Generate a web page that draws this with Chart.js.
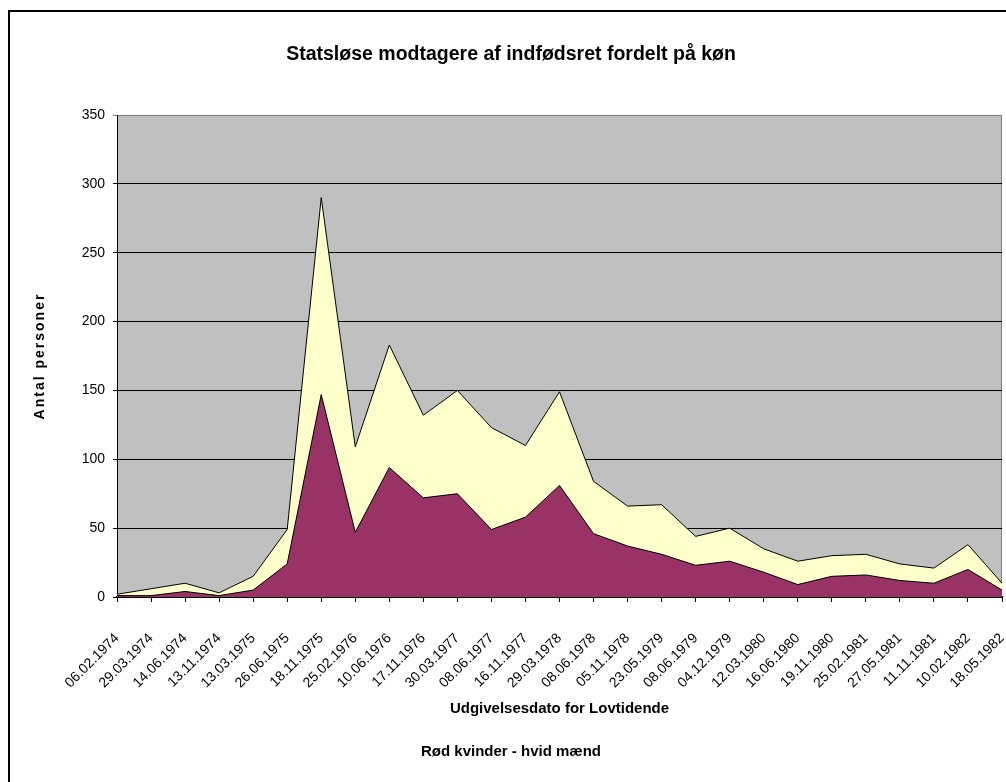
<!DOCTYPE html>
<html>
<head>
<meta charset="utf-8">
<title>Statsløse modtagere af indfødsret</title>
<script src="https://cdn.jsdelivr.net/npm/chart.js@4/dist/chart.umd.min.js"></script>
<style>
  html, body { margin: 0; padding: 0; background: #fff; overflow: hidden; }
  #frame {
    position: absolute; left: 8px; top: 10px;
    width: 1100px; height: 900px;
    border: 2px solid #000;
  }
  #chart { position: absolute; left: 0; top: 0; }
</style>
</head>
<body>
<div id="frame"></div>
<canvas id="chart" width="1006" height="782"></canvas>
<script>
// Udgivelsesdatoer (kategorier)
const datoer = [
  "06.02.1974", "29.03.1974", "14.06.1974", "13.11.1974", "13.03.1975",
  "26.06.1975", "18.11.1975", "25.02.1976", "10.06.1976", "17.11.1976",
  "30.03.1977", "08.06.1977", "16.11.1977", "29.03.1978", "08.06.1978",
  "05.11.1978", "23.05.1979", "08.06.1979", "04.12.1979", "12.03.1980",
  "16.06.1980", "19.11.1980", "25.02.1981", "27.05.1981", "11.11.1981",
  "10.02.1982", "18.05.1982"
];

// Antal kvinder pr. lov
const kvinder = [1, 1, 4, 1, 5, 24, 147, 47, 94, 72, 75, 49, 58, 81, 46,
  37, 31, 23, 26, 18, 9, 15, 16, 12, 10, 20, 5];

// Antal mænd pr. lov
const maend = [1, 5, 6, 2, 10, 25, 143, 62, 89, 60, 75, 74, 52, 68, 38,
  29, 36, 21, 24, 17, 17, 15, 15, 12, 11, 18, 5];

const yTicks = [0, 50, 100, 150, 200, 250, 300, 350];

const FONT = '"Liberation Sans", Arial, sans-serif';
Chart.defaults.font.family = FONT;
Chart.defaults.color = "#000";

// grå baggrund i plotområdet
const plotBaggrund = {
  id: "plotBaggrund",
  beforeDraw(chart) {
    const { ctx, chartArea: a } = chart;
    ctx.save();
    ctx.fillStyle = "#c0c0c0";
    ctx.fillRect(a.left, a.top, a.right - a.left, a.bottom - a.top);
    ctx.strokeStyle = "#808080";
    ctx.lineWidth = 1;
    ctx.strokeRect(a.left + 0.5, a.top + 0.5, a.right - a.left - 1, a.bottom - a.top);
    ctx.restore();
  }
};

// lodret aksetitel med spatieret skrift
const yTitel = {
  id: "yTitel",
  afterDraw(chart) {
    const { ctx, chartArea: a } = chart;
    ctx.save();
    ctx.translate(40, (a.top + a.bottom) / 2);
    ctx.rotate(-Math.PI / 2);
    ctx.font = "bold 14px " + FONT;
    ctx.letterSpacing = "2px";
    ctx.fillStyle = "#000";
    ctx.textAlign = "center";
    ctx.textBaseline = "middle";
    ctx.fillText("Antal personer", 0, 0);
    ctx.restore();
  }
};

new Chart(document.getElementById("chart"), {
  type: "line",
  data: {
    labels: datoer,
    datasets: [
      {
        label: "Kvinder",
        data: kvinder,
        backgroundColor: "#993366",
        borderColor: "#000",
        borderWidth: 1,
        fill: "origin",
        pointRadius: 0,
        tension: 0
      },
      {
        label: "Mænd",
        data: maend,
        backgroundColor: "#ffffcc",
        borderColor: "#000",
        borderWidth: 1,
        fill: "-1",
        pointRadius: 0,
        tension: 0
      }
    ]
  },
  options: {
    responsive: false,
    animation: false,
    layout: { padding: { left: 20, right: 4, top: 0, bottom: 0 } },
    plugins: {
      legend: { display: false },
      tooltip: { enabled: false },
      title: {
        display: true,
        text: "Statsløse modtagere af indfødsret fordelt på køn",
        font: { size: 19.5, weight: "bold", lineHeight: 1.2 },
        padding: { top: 43.3, bottom: 48.3 }
      },
      subtitle: {
        display: true,
        position: "bottom",
        text: "Rød kvinder - hvid mænd",
        font: { size: 15, weight: "bold", lineHeight: 1.2 },
        padding: { top: 0, bottom: 21 }
      }
    },
    scales: {
      x: {
        offset: false,
        grid: { drawOnChartArea: false, drawTicks: true, tickLength: 5, color: "#000" },
        border: { color: "#000", width: 2 },
        ticks: {
          autoSkip: false,
          minRotation: 45,
          maxRotation: 45,
          padding: 28,
          font: { size: 14 }
        },
        title: {
          display: true,
          text: "Udgivelsesdato for Lovtidende",
          font: { size: 15, weight: "bold", lineHeight: 1.2 },
          padding: { top: 0, bottom: 25 }
        },
        afterFit(scale) {
          scale.height = 146;
          scale.paddingLeft = 0;
          scale.paddingRight = 0;
        }
      },
      y: {
        stacked: true,
        min: 0,
        max: 350,
        afterBuildTicks(scale) { scale.ticks = yTicks.map(v => ({ value: v })); },
        grid: {
          color: ctx => (ctx.tick && ctx.tick.value === 350 ? "#808080" : "#000"),
          lineWidth: 1,
          tickLength: 4
        },
        border: { color: "#000", width: 1 },
        ticks: { padding: 8, font: { size: 14 } },
        afterFit(scale) { scale.width = 97; }
      }
    }
  },
  plugins: [plotBaggrund, yTitel]
});
</script>
</body>
</html>
